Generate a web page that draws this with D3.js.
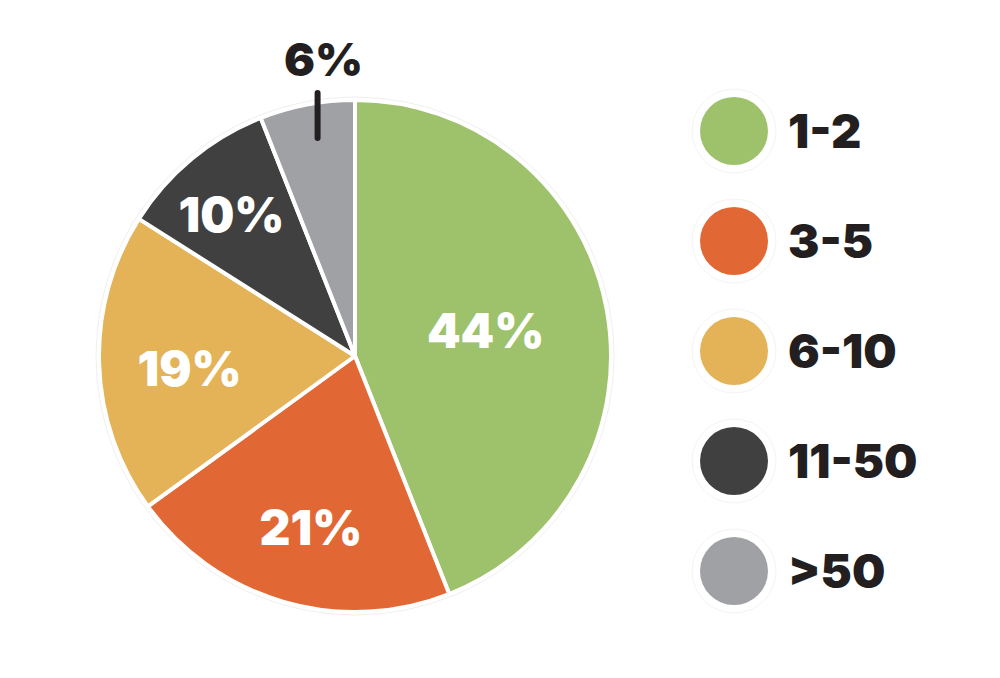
<!DOCTYPE html>
<html><head><meta charset="utf-8">
<script src="https://cdn.jsdelivr.net/npm/d3@7"></script>
<style>
html,body{margin:0;padding:0;background:#fff;}
svg{display:block;}
text{font-family:"Inter","Open Sans",sans-serif;font-weight:900;}
</style></head>
<body>
<svg id="chart" width="1000" height="678"></svg>
<script>
// Data
const categories = ["1-2", "3-5", "6-10", "11-50", ">50"];
const values = [44, 21, 19, 10, 6];
const labels = ["44%", "21%", "19%", "10%", "6%"];
const colors = ["#9dc26b", "#e16834", "#e4b257", "#404040", "#a0a1a4"];

// Layout
const W = 1000, H = 678;
const cx = 355, cy = 356, R = 256;
const labelR = [133, 177, 166, 188, null];
const labelShift = [0, -1.8, -2.7, -1.5, 0]; // degrees
const svg = d3.select("#chart");

const pie = d3.pie().value(d => d).sort(null).startAngle(0).endAngle(2 * Math.PI);
const arcs = pie(values);
const arc = d3.arc().innerRadius(0).outerRadius(R);

const g = svg.append("g").attr("transform", `translate(${cx},${cy})`);
g.append("circle").attr("r", R + 3).attr("fill", "none").attr("stroke", "#efefef").attr("stroke-width", 1);
g.selectAll("path.slice").data(arcs).join("path")
  .attr("class", "slice")
  .attr("d", arc)
  .attr("fill", (d, i) => colors[i])
  .attr("stroke", "#fff")
  .attr("stroke-width", 4)
  .attr("stroke-linejoin", "round");

// Inside labels
g.selectAll("text.lbl").data(arcs.filter((d, i) => labelR[i] !== null)).join("text")
  .attr("class", "lbl")
  .attr("x", d => { const i = d.index; const a = (d.startAngle + d.endAngle) / 2 + labelShift[i] * Math.PI / 180; return labelR[i] * Math.sin(a); })
  .attr("y", d => { const i = d.index; const a = (d.startAngle + d.endAngle) / 2 + labelShift[i] * Math.PI / 180; return -labelR[i] * Math.cos(a); })
  .attr("dy", "0.36em")
  .attr("text-anchor", "middle")
  .attr("fill", "#fff")
  .attr("font-size", 48)
  .text(d => labels[d.index]);

// Outside label for small slice
const last = arcs[arcs.length - 1];
const midA = (last.startAngle + last.endAngle) / 2;
const lx = 0.78 * R * Math.sin(midA);
g.append("line")
  .attr("x1", lx).attr("x2", lx)
  .attr("y1", -R - 7).attr("y2", -R + 38)
  .attr("stroke", "#231f20").attr("stroke-width", 6).attr("stroke-linecap", "round");
g.append("text")
  .attr("x", lx + 6).attr("y", -R - 24)
  .attr("text-anchor", "middle")
  .attr("fill", "#231f20")
  .attr("font-size", 46)
  .text(labels[labels.length - 1]);

// Legend
const ly = d3.scaleBand().domain(categories).range([76, 626]);
const leg = svg.append("g").selectAll("g").data(categories).join("g")
  .attr("transform", d => `translate(734,${ly(d) + ly.bandwidth() / 2})`);
leg.append("circle").attr("r", 42).attr("fill", "none").attr("stroke", "#f4f4f4").attr("stroke-width", 1);
leg.append("circle").attr("r", 34).attr("fill", (d, i) => colors[i]);
leg.append("text")
  .attr("x", 54).attr("dy", "0.36em")
  .attr("fill", "#231f20")
  .attr("font-size", 47)
  .text(d => d);
</script>
</body></html>
